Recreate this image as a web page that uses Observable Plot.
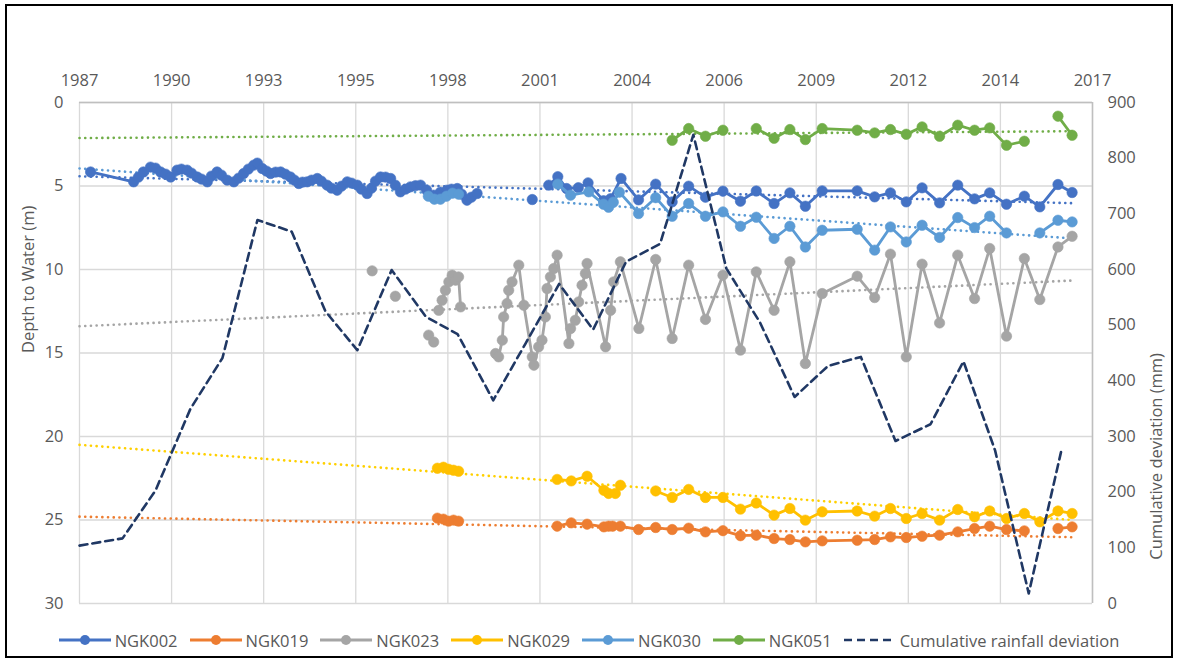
<!DOCTYPE html>
<html><head><meta charset="utf-8">
<script src="https://cdn.jsdelivr.net/npm/d3@7"></script>
<script src="https://cdn.jsdelivr.net/npm/@observablehq/plot@0.6"></script>
<style>
body{margin:0;background:#fff;font-family:"Open Sans",sans-serif;}
#wrap{position:relative;width:1178px;height:661px;overflow:hidden;background:#fff;}
#chart{position:absolute;left:0;top:0;}
#border{position:absolute;left:5px;top:4px;width:1168px;height:654px;border:2px solid #000;box-sizing:border-box;pointer-events:none;}
#legend{position:absolute;left:0;top:628px;width:1178px;height:24px;display:flex;justify-content:center;align-items:center;font-size:16.5px;color:#595959;font-family:"Open Sans",sans-serif;}
.item{display:flex;align-items:center;margin:0 6px;white-space:nowrap;}
.item svg{margin-right:4px;}
</style></head><body>
<div id="wrap"><div id="chart"></div><div id="legend"></div><div id="border"></div></div>
<script>
// ---------- axis data ----------
const tickLabels = ["1987","1990","1993","1995","1998","2001","2004","2006","2009","2012","2014","2017"];
const axisStartYear = 1987.6;
const tickStepDays = 1000;
const depthTicks = [0,5,10,15,20,25,30];
const mmTicks = [0,100,200,300,400,500,600,700,800,900];
const leftTitle = "Depth to Water (m)";
const rightTitle = "Cumulative deviation (mm)";

// ---------- series names / colours ----------
const seriesNames = ["NGK002","NGK019","NGK023","NGK029","NGK030","NGK051"];
const seriesColors = ["#4472C4","#ED7D31","#A5A5A5","#FFC000","#5B9BD5","#70AD47"];
const trendColors = ["#4472C4","#ED7D31","#A5A5A5","#FFD000","#5B9BD5","#70AD47"];
const rainName = "Cumulative rainfall deviation";
const rainColor = "#203864";

// common half-yearly survey dates (2004.7 - 2017.1)
const surveyYears = [2004.73,2005.22,2005.71,2006.21,2006.73,2007.25,2007.72,2008.25,2008.72,2009.18,2009.68,2010.72,2011.24,2011.71,2012.18,2012.65,2013.17,2013.71,2014.21,2014.66,2015.16,2015.69,2016.15,2016.69,2017.11];

// ---------- NGK002 ----------
const ngk002EarlyYears = [1987.93,1989.21,1989.35,1989.50,1989.71,1989.86,1990.01,1990.16,1990.31,1990.50,1990.63,1990.80,1990.93,1991.10,1991.23,1991.40,1991.52,1991.69,1991.82,1991.99,1992.19,1992.33,1992.48,1992.62,1992.78,1992.89,1993.03,1993.16,1993.28,1993.43,1993.58,1993.72,1993.87,1993.99,1994.12,1994.23,1994.37,1994.50,1994.67,1994.79,1994.96,1995.09,1995.26,1995.39,1995.56,1995.69,1995.86,1995.98,1996.15,1996.28,1996.40,1996.55,1996.70,1996.85,1996.99,1997.14,1997.29,1997.44,1997.59,1997.74,1997.92,1998.13,1998.33,1998.53,1998.66,1998.83,1998.96,1999.12,1999.25,1999.42];
const ngk002EarlyDepth = [4.16,4.75,4.47,4.16,3.87,3.93,4.16,4.29,4.46,4.05,3.99,4.05,4.23,4.46,4.59,4.75,4.41,4.16,4.35,4.65,4.75,4.53,4.25,3.99,3.75,3.63,3.95,4.11,4.25,4.17,4.16,4.29,4.46,4.65,4.85,4.77,4.75,4.65,4.55,4.71,4.95,5.13,5.25,5.01,4.75,4.83,4.95,5.19,5.45,5.13,4.71,4.46,4.47,4.55,4.95,5.35,5.19,5.05,4.98,4.95,5.25,5.55,5.37,5.25,5.19,5.15,5.49,5.85,5.67,5.45];
const ngk002MidYears = [null,2001.06,null,2001.55,2001.82,2002.08,2002.43,2002.72,2003.18,2003.39,2003.70,2004.22];
const ngk002MidDepth = [null,5.81,null,4.95,4.44,5.15,5.10,4.81,5.88,5.76,4.55,5.83];
const ngk002SurveyDepth = [4.89,5.95,5.01,5.67,5.31,5.91,5.30,6.05,5.41,6.21,5.29,5.29,5.65,5.41,5.95,5.11,6.01,4.95,5.77,5.41,6.09,5.61,6.25,4.91,5.39];

// ---------- NGK019 ----------
const ngk019EarlyYears = [1998.24,1998.42,1998.57,1998.72,1998.87,null,2001.80,2002.22,2002.69,2003.19,2003.33,2003.45,2003.68,2004.22];
const ngk019EarlyDepth = [24.89,24.95,25.07,25.01,25.07,null,25.37,25.17,25.25,25.41,25.37,25.37,25.37,25.57];
const ngk019SurveyDepth = [25.45,25.57,25.49,25.71,25.64,25.94,25.91,26.11,26.17,26.31,26.25,26.21,26.17,26.01,26.05,25.97,25.91,25.71,25.51,25.37,25.57,25.65,null,25.51,25.41];

// ---------- NGK023 ----------
const ngk023EarlyYears = [1996.30,null,1996.99,null,1997.98,1998.13,null,1998.28,1998.38,1998.48,1998.58,1998.68,1998.78,1998.87,1998.93,null,1999.97,2000.06,2000.17,2000.21,2000.31,2000.36,2000.46,2000.66,2000.81,2001.06,2001.11,2001.25,2001.35,2001.45,2001.50,2001.60,2001.70,2001.80,2002.15,2002.20,2002.34,2002.44,2002.54,2002.64,2002.69,2003.24,2003.39,2003.48,2003.68,2004.23];
const ngk023EarlyDepth = [10.08,null,11.60,null,13.93,14.34,null,12.44,11.84,11.24,10.74,10.34,10.64,10.44,12.24,null,15.03,15.23,14.23,12.84,12.04,11.24,10.74,9.74,12.14,15.23,15.73,14.63,14.23,12.84,11.14,10.44,9.94,9.14,14.43,13.53,13.04,11.94,10.94,10.24,9.64,14.63,12.44,10.74,9.54,13.53];
const ngk023SurveyDepth = [9.40,14.13,9.74,12.99,10.34,14.83,10.14,12.44,9.54,15.63,11.44,10.40,11.68,9.08,15.23,9.68,13.20,9.14,11.74,8.74,13.99,9.34,11.80,8.65,8.01];

// ---------- NGK029 ----------
const ngk029EarlyYears = [1998.24,1998.42,1998.57,1998.72,1998.87,null,2001.80,2002.22,2002.69,2003.19,2003.33,2003.53,2003.68,null];
const ngk029EarlyDepth = [21.90,21.84,21.96,22.02,22.08,null,22.57,22.66,22.38,23.22,23.41,23.41,22.92,null];
const ngk029SurveyDepth = [23.26,23.65,23.17,23.65,23.65,24.35,23.98,24.71,24.31,25.01,24.51,24.46,24.77,24.31,24.91,24.61,25.01,24.37,24.81,24.46,24.91,24.61,25.11,24.46,24.61];

// ---------- NGK030 ----------
const ngk030EarlyYears = [1997.97,1998.15,1998.33,1998.51,1998.69,1998.87,null,2001.82,2002.20,2002.74,2003.18,2003.33,2003.47,2003.65,2004.22];
const ngk030EarlyDepth = [5.61,5.79,5.79,5.61,5.43,5.49,null,4.89,5.55,5.35,6.09,6.27,5.97,5.37,6.65];
const ngk030SurveyDepth = [5.70,6.81,6.05,6.81,6.55,7.41,6.87,8.14,7.41,8.65,7.65,7.59,8.84,7.45,8.35,7.35,8.08,6.89,7.49,6.81,7.81,null,7.81,7.05,7.15];

// ---------- NGK051 ----------
const ngk051SurveyDepth = [null,2.26,1.56,2.02,1.66,null,1.56,2.14,1.62,2.22,1.56,1.66,1.82,1.62,1.90,1.46,2.02,1.36,1.66,1.52,2.56,2.32,null,0.82,1.96];

// ---------- trend lines (dotted), start/end depths ----------
const trendYears = [1987.6, 2017.11];
const trendStartDepth = [4.42,24.80,13.40,20.50,3.95,2.13];
const trendEndDepth   = [6.03,26.03,10.66,25.00,8.14,1.72];

// ---------- cumulative rainfall deviation (mm) ----------
const rainYears = [1987.6,1988.88,1989.86,1990.9,1991.85,1992.89,1993.91,1994.91,1995.86,1996.88,1997.9,1998.84,1999.9,2000.86,2001.86,2002.87,2003.85,2004.86,2005.85,2006.83,2007.83,2008.86,2009.86,2010.83,2011.86,2012.9,2013.88,2014.82,2015.82,2016.78];
const rainMm = [104,117,203,350,441,689,668,525,455,599,515,484,365,467,574,492,614,646,842,602,505,371,427,443,292,322,435,275,18,272];

// ---------- build tables ----------
const zip = (ys, ds) => ys.map((y, i) => ({year: y, depth: ds[i]}));
const seriesData = [
  [...zip(ngk002EarlyYears, ngk002EarlyDepth), ...zip(ngk002MidYears, ngk002MidDepth), ...zip(surveyYears, ngk002SurveyDepth)],
  [...zip(ngk019EarlyYears, ngk019EarlyDepth), ...zip(surveyYears, ngk019SurveyDepth)],
  [...zip(ngk023EarlyYears, ngk023EarlyDepth), ...zip(surveyYears, ngk023SurveyDepth)],
  [...zip(ngk029EarlyYears, ngk029EarlyDepth), ...zip(surveyYears, ngk029SurveyDepth)],
  [...zip(ngk030EarlyYears, ngk030EarlyDepth), ...zip(surveyYears, ngk030SurveyDepth)],
  [...zip(surveyYears, ngk051SurveyDepth)]
];
const trendData = seriesNames.map((n, i) => [
  {year: trendYears[0], depth: trendStartDepth[i]},
  {year: trendYears[1], depth: trendEndDepth[i]}
]);
const rain = rainYears.map((y, i) => ({year: y, mm: rainMm[i]}));
const mmToDepth = mm => 30 - mm / 30;

const tickYears = tickLabels.map((_, i) => axisStartYear + i * tickStepDays / 365.25);
const xDomain = [tickYears[0], tickYears[tickYears.length - 1]];
const labelFor = d => tickLabels[Math.round((d - axisStartYear) * 365.25 / tickStepDays)];

const textColor = "#595959";
const gridColor = "#D9D9D9";

const marks = [
  Plot.gridY(depthTicks, {stroke: gridColor, strokeOpacity: 1, strokeWidth: 1.3}),
  Plot.gridX(tickYears, {stroke: gridColor, strokeOpacity: 1, strokeWidth: 1.3}),
  Plot.ruleY([0], {stroke: "#BFBFBF", strokeWidth: 1.5}),
  Plot.ruleX([xDomain[1]], {stroke: "#BFBFBF", strokeWidth: 1.5}),
  Plot.axisX({anchor: "top", ticks: tickYears, tickFormat: labelFor, tickSize: 0, tickPadding: 17, label: null, fill: textColor}),
  Plot.axisY({anchor: "left", ticks: depthTicks, tickFormat: d => String(d), tickSize: 0, tickPadding: 16, label: null, fill: textColor}),
  Plot.axisY({anchor: "right", ticks: mmTicks.map(mmToDepth), tickFormat: d => String(Math.round((30 - d) * 30)), tickSize: 0, tickPadding: 15, label: null, fill: textColor}),
  Plot.text([leftTitle], {frameAnchor: "left", dx: -51, rotate: -90, fill: textColor, fontSize: 16.5}),
  Plot.text([rightTitle], {frameAnchor: "right", dx: 64, rotate: -90, fill: textColor, fontSize: 16.5})
];
trendData.forEach((t, i) => {
  marks.push(Plot.line(t, {x: "year", y: "depth", stroke: trendColors[i], strokeWidth: 2.6, strokeDasharray: "0.1,5.6", strokeLinecap: "round"}));
});
seriesData.forEach((s, i) => {
  marks.push(Plot.line(s, {x: "year", y: "depth", stroke: seriesColors[i], strokeWidth: 2.8}));
  marks.push(Plot.dot(s, {x: "year", y: "depth", r: 5.2, fill: seriesColors[i], stroke: seriesColors[i], strokeWidth: 0.6}));
});
marks.push(Plot.line(rain, {x: "year", y: d => mmToDepth(d.mm), stroke: rainColor, strokeWidth: 2.6, strokeDasharray: "8,5"}));

const chart = Plot.plot({
  width: 1178,
  height: 620,
  marginTop: 102,
  marginBottom: 17,
  marginLeft: 79,
  marginRight: 86,
  style: {fontFamily: "'Open Sans', sans-serif", fontSize: "16.5px", color: textColor, background: "transparent"},
  x: {type: "linear", domain: xDomain, nice: false},
  y: {domain: [0, 30], reverse: true, nice: false},
  marks
});
document.getElementById("chart").appendChild(chart);

// ---------- legend ----------
const legend = document.getElementById("legend");
const ns = "http://www.w3.org/2000/svg";
function swatch(color, dashed) {
  const svg = document.createElementNS(ns, "svg");
  svg.setAttribute("width", 52); svg.setAttribute("height", 14);
  const l = document.createElementNS(ns, "line");
  l.setAttribute("x1", 0); l.setAttribute("x2", 52); l.setAttribute("y1", 7); l.setAttribute("y2", 7);
  l.setAttribute("stroke", color); l.setAttribute("stroke-width", dashed ? 2.6 : 2.8);
  if (dashed) l.setAttribute("stroke-dasharray", "8,5");
  svg.appendChild(l);
  if (!dashed) {
    const c = document.createElementNS(ns, "circle");
    c.setAttribute("cx", 26); c.setAttribute("cy", 7); c.setAttribute("r", 5); c.setAttribute("fill", color);
    svg.appendChild(c);
  }
  return svg;
}
[...seriesNames.map((n, i) => [n, seriesColors[i], false]), [rainName, rainColor, true]].forEach(([name, color, dashed]) => {
  const item = document.createElement("div");
  item.className = "item";
  item.appendChild(swatch(color, dashed));
  const t = document.createElement("span");
  t.textContent = name;
  item.appendChild(t);
  legend.appendChild(item);
});
</script></body></html>
